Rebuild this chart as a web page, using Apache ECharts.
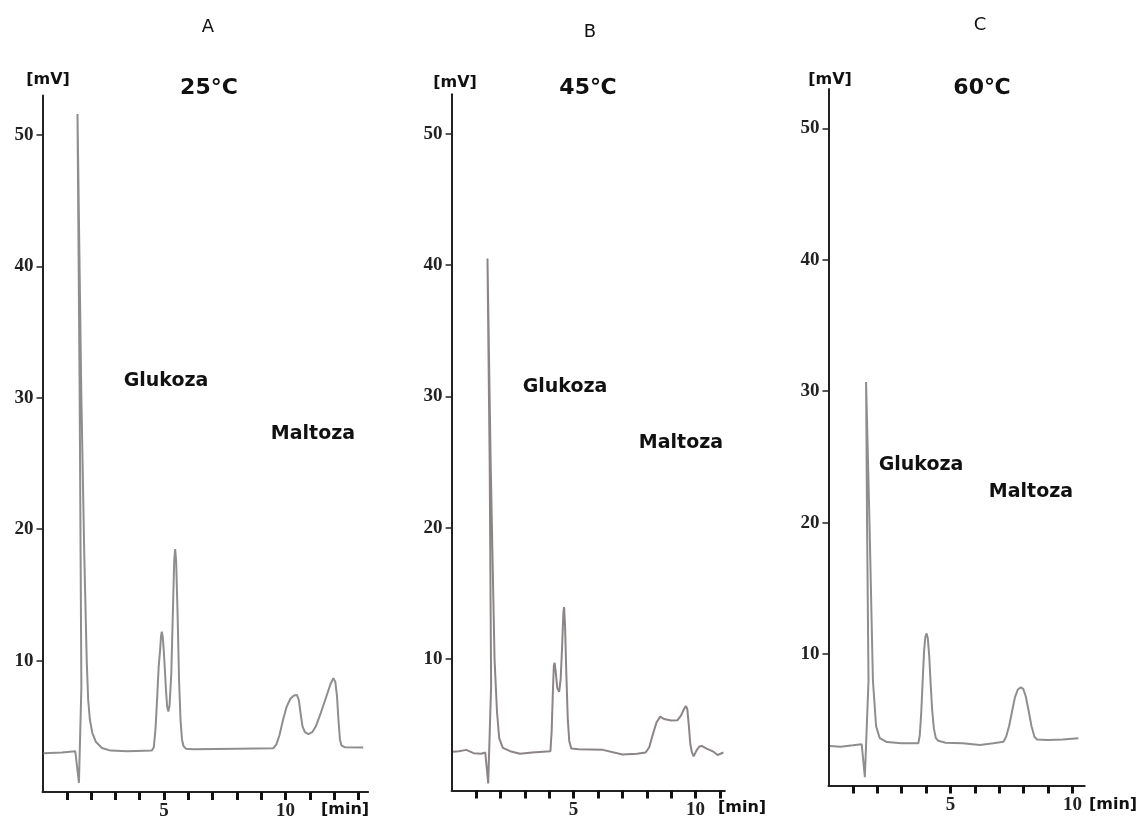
<!DOCTYPE html>
<html>
<head>
<meta charset="utf-8">
<script src="https://cdn.jsdelivr.net/npm/echarts@6/dist/echarts.min.js"></script>
<style>
html,body{margin:0;padding:0;background:#fff;}
#chart{width:1145px;height:822px;}
</style>
</head>
<body>
<div id="chart"></div>
<script>
// ---- Data (time [min], signal [mV]) ----
const timeA = [0.04,0.8,1.35,1.42,1.5,1.6,1.53,1.44,1.6,1.72,1.82,1.88,1.95,2.05,2.2,2.45,2.8,3.5,4.5,4.58,4.65,4.72,4.78,4.84,4.88,4.91,4.95,5.0,5.08,5.13,5.18,5.23,5.3,5.37,5.42,5.46,5.5,5.56,5.62,5.68,5.74,5.8,5.9,6.21,8.0,9.5,9.62,9.75,9.9,10.05,10.2,10.35,10.47,10.55,10.62,10.7,10.8,10.94,11.1,11.25,11.45,11.65,11.85,11.97,12.05,12.12,12.18,12.24,12.3,12.45,13.2];
const mvA   = [2.95,3.0,3.1,3.15,0.7,8,30,51.6,30,18,10,7,5.5,4.5,3.8,3.35,3.15,3.1,3.15,3.4,4.8,7.2,9.5,10.8,11.9,12.2,11.8,10.5,7.8,6.5,6.12,6.6,9,14,17.6,18.48,17.6,13.5,8.5,5.5,4.0,3.5,3.3,3.25,3.3,3.33,3.6,4.3,5.5,6.5,7.1,7.35,7.39,7.0,6.0,5.0,4.55,4.4,4.55,5.0,6.0,7.1,8.2,8.66,8.4,7.3,5.5,4.0,3.55,3.4,3.38];

const timeB = [0.06,0.3,0.6,0.9,1.2,1.38,1.5,1.62,1.56,1.47,1.6,1.76,1.86,1.95,2.1,2.4,2.8,3.3,4.05,4.1,4.15,4.19,4.22,4.27,4.33,4.41,4.47,4.53,4.58,4.61,4.65,4.7,4.76,4.82,4.9,5.2,6.2,7.0,7.6,7.95,8.1,8.25,8.4,8.55,8.7,9.0,9.25,9.4,9.52,9.6,9.66,9.72,9.78,9.84,9.92,9.98,10.05,10.15,10.25,10.45,10.73,10.9,11.14];
const mvB   = [2.96,3.0,3.1,2.85,2.8,2.9,0.55,8,25,40.5,25,10,6,4,3.25,3.0,2.8,2.9,3.0,4.5,7.5,9.5,9.74,9.0,7.8,7.53,8.5,11,13.5,13.96,12.5,9,5.5,3.8,3.2,3.15,3.1,2.75,2.8,2.9,3.3,4.3,5.2,5.63,5.45,5.33,5.35,5.7,6.2,6.44,6.2,5.0,3.6,2.96,2.6,2.58,3.1,3.35,3.4,3.2,2.96,2.71,2.9];

const timeC = [0.06,0.5,1.0,1.36,1.49,1.64,1.58,1.54,1.68,1.82,1.95,2.1,2.4,3.0,3.68,3.74,3.8,3.86,3.92,3.97,4.02,4.07,4.13,4.19,4.25,4.32,4.4,4.5,4.8,5.5,6.21,6.75,7.17,7.28,7.4,7.52,7.64,7.76,7.88,7.98,8.08,8.2,8.32,8.44,8.55,9.0,9.6,10.24];
const mvC   = [3.0,2.95,3.05,3.13,0.62,8,20,30.7,20,8,4.5,3.6,3.3,3.2,3.2,3.8,5.5,8,10.3,11.3,11.57,11.2,9.8,7.6,5.7,4.3,3.6,3.4,3.25,3.2,3.07,3.2,3.33,3.7,4.5,5.6,6.7,7.3,7.46,7.35,6.8,5.7,4.5,3.7,3.5,3.45,3.5,3.58];

const yTicks = [10,20,30,40,50];
const xTicksA = [1,2,3,4,5,6,7,8,9,10,11,12,13];
const xTicksB = [1,2,3,4,5,6,7,8,9,10,11];
const xTicksC = [1,2,3,4,5,6,7,8,9,10];
const xLabels = [5,10];
const panelLetters = ['A','B','C'];
const temps = ['25°C','45℃','60℃'];
const peakNames = ['Glukoza','Maltoza'];

const pairs = (t, v) => t.map((x, i) => [x, v[i]]);

const chart = echarts.init(document.getElementById('chart'), null, {renderer: 'canvas'});

const grids = [
  {left: 42.5, top: 95.6, width: 325.6, height: 696.4, xmax: 13.4, xt: xTicksA},
  {left: 451.6, top: 94.2, width: 273.3, height: 696.4, xmax: 11.2, xt: xTicksB},
  {left: 828.5, top: 89.0, width: 256.2, height: 696.4, xmax: 10.5, xt: xTicksC}
];

const labelFont = {fontFamily: 'Liberation Serif', fontWeight: 'bold', fontSize: 19, color: '#222'};

const option = {
  backgroundColor: '#fff',
  animation: false,
  grid: grids.map(g => ({left: g.left, top: g.top, width: g.width, height: g.height, containLabel: false})),
  xAxis: grids.map((g, i) => ({
    type: 'value', gridIndex: i, min: 0, max: g.xmax,
    axisLine: {show: true, onZero: false, lineStyle: {color: '#222', width: 2}},
    axisTick: {show: true, inside: false, length: 8, customValues: g.xt, lineStyle: {color: '#111', width: 3}},
    axisLabel: Object.assign({show: true, margin: 10, customValues: xLabels}, labelFont),
    splitLine: {show: false}
  })),
  yAxis: grids.map((g, i) => ({
    type: 'value', gridIndex: i, min: 0, max: 53,
    axisLine: {show: true, onZero: false, lineStyle: {color: '#222', width: 2}},
    axisTick: {show: true, inside: false, length: 6, customValues: yTicks, lineStyle: {color: '#222', width: 1.5}},
    axisLabel: Object.assign({show: true, margin: 9, customValues: yTicks}, labelFont),
    splitLine: {show: false}
  })),
  series: [
    {type: 'line', xAxisIndex: 0, yAxisIndex: 0, data: pairs(timeA, mvA), showSymbol: false, lineStyle: {color: '#8e8e8e', width: 2}},
    {type: 'line', xAxisIndex: 1, yAxisIndex: 1, data: pairs(timeB, mvB), showSymbol: false, lineStyle: {color: '#8d8585', width: 2}},
    {type: 'line', xAxisIndex: 2, yAxisIndex: 2, data: pairs(timeC, mvC), showSymbol: false, lineStyle: {color: '#8e8e8e', width: 2}}
  ],
  graphic: []
};

const textEl = (txt, x, y, size, weight, family) => ({
  type: 'text', x: x, y: y, silent: true,
  style: {text: txt, fill: '#111', font: weight + ' ' + size + 'px ' + family, textAlign: 'center', textVerticalAlign: 'middle'}
});

const letterPos = [[208, 27], [590, 32], [980, 25]];
const mvPos = [[48, 80], [455, 83], [830, 80]];
const tempPos = [[209, 88], [588, 88], [982, 88]];
const gluPos = [[166, 381], [565, 387], [921, 465]];
const malPos = [[313, 434], [681, 443], [1031, 492]];
const minPos = [[345, 810], [742, 808], [1113, 805]];

for (let i = 0; i < 3; i++) {
  option.graphic.push(textEl(panelLetters[i], letterPos[i][0], letterPos[i][1], 18, 'normal', 'DejaVu Sans'));
  option.graphic.push(textEl('[mV]', mvPos[i][0], mvPos[i][1], 16, 'bold', 'DejaVu Sans'));
  option.graphic.push(textEl(temps[i], tempPos[i][0], tempPos[i][1], 22, 'bold', 'DejaVu Sans'));
  option.graphic.push(textEl(peakNames[0], gluPos[i][0], gluPos[i][1], 19, 'bold', 'DejaVu Sans'));
  option.graphic.push(textEl(peakNames[1], malPos[i][0], malPos[i][1], 19, 'bold', 'DejaVu Sans'));
  option.graphic.push(textEl('[min]', minPos[i][0], minPos[i][1], 16, 'bold', 'DejaVu Sans'));
}

chart.setOption(option);
</script>
</body>
</html>
